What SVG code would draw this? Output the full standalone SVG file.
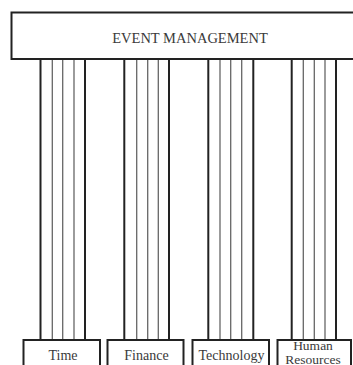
<svg xmlns="http://www.w3.org/2000/svg" width="353" height="365" viewBox="0 0 353 365">
<style>
.box{fill:#fff;stroke:#222;stroke-width:2}
.t{font-family:"Liberation Serif","Times New Roman",serif;fill:#3a3a3a;text-anchor:middle}
.o{stroke:#222;stroke-width:2}
.i{stroke:#666;stroke-width:1.3}
</style>
<rect width="353" height="365" fill="#fff"/>
<g id="connectors">
<line class="o" x1="40.5" y1="59" x2="40.5" y2="340"/>
<line class="i" x1="52.3" y1="59" x2="52.3" y2="340"/>
<line class="i" x1="62.7" y1="59" x2="62.7" y2="340"/>
<line class="i" x1="74" y1="59" x2="74" y2="340"/>
<line class="o" x1="85" y1="59" x2="85" y2="340"/>
<line class="o" x1="124.3" y1="59" x2="124.3" y2="340"/>
<line class="i" x1="136.7" y1="59" x2="136.7" y2="340"/>
<line class="i" x1="147.7" y1="59" x2="147.7" y2="340"/>
<line class="i" x1="158.3" y1="59" x2="158.3" y2="340"/>
<line class="o" x1="169" y1="59" x2="169" y2="340"/>
<line class="o" x1="208.3" y1="59" x2="208.3" y2="340"/>
<line class="i" x1="220" y1="59" x2="220" y2="340"/>
<line class="i" x1="230.7" y1="59" x2="230.7" y2="340"/>
<line class="i" x1="241.7" y1="59" x2="241.7" y2="340"/>
<line class="o" x1="253.3" y1="59" x2="253.3" y2="340"/>
<line class="o" x1="291.7" y1="59" x2="291.7" y2="340"/>
<line class="i" x1="303.3" y1="59" x2="303.3" y2="340"/>
<line class="i" x1="314.3" y1="59" x2="314.3" y2="340"/>
<line class="i" x1="325" y1="59" x2="325" y2="340"/>
<line class="o" x1="336" y1="59" x2="336" y2="340"/>
</g>
<g id="event-management">
<rect class="box" x="11.5" y="12.5" width="360" height="46.5"/>
<text class="t" x="190" y="43" font-size="14.5">EVENT MANAGEMENT</text>
</g>
<g id="time">
<rect class="box" x="23.5" y="340" width="76.5" height="40"/>
<text class="t" x="63" y="359.5" font-size="14">Time</text>
</g>
<g id="finance">
<rect class="box" x="107.5" y="340" width="76" height="40"/>
<text class="t" x="146.5" y="359.5" font-size="14">Finance</text>
</g>
<g id="technology">
<rect class="box" x="192.5" y="340" width="76.5" height="40"/>
<text class="t" x="231.5" y="359.5" font-size="14">Technology</text>
</g>
<g id="human-resources">
<rect class="box" x="277.5" y="340" width="73.5" height="40"/>
<text class="t" x="313" y="349.5" font-size="13.5">Human</text>
<text class="t" x="313" y="363.5" font-size="13.5">Resources</text>
</g>
</svg>
